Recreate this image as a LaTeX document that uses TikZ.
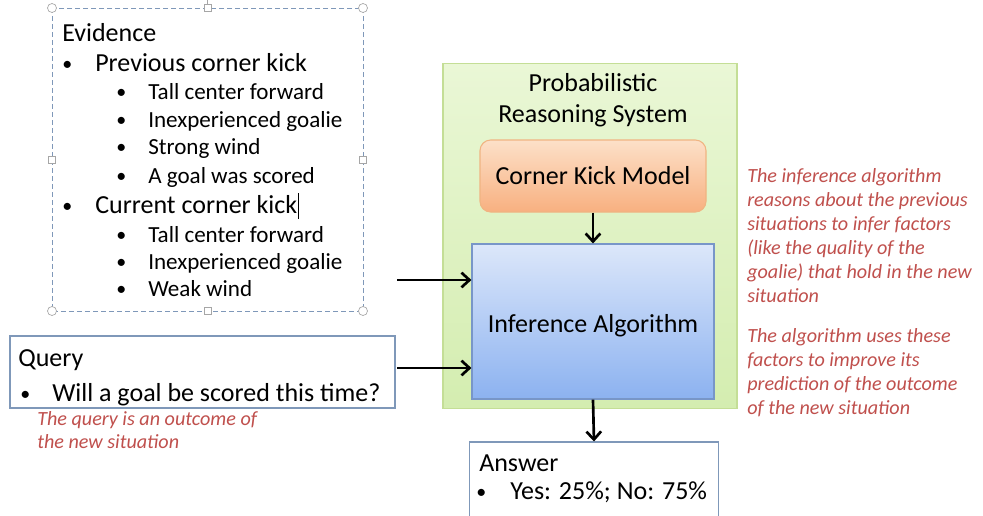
\documentclass[tikz,border=0pt]{standalone}
\usepackage{fontspec}
\setmainfont{Carlito}
\usetikzlibrary{arrows.meta,positioning}
\definecolor{notered}{RGB}{192,80,77}
\definecolor{boxline}{RGB}{127,152,185}
\definecolor{greentop}{RGB}{234,247,214}
\definecolor{greenbot}{RGB}{212,237,176}
\definecolor{greenline}{RGB}{196,222,150}
\definecolor{orangetop}{RGB}{252,224,200}
\definecolor{orangebot}{RGB}{248,176,128}
\definecolor{orangeline}{RGB}{240,180,130}
\definecolor{bluetop}{RGB}{220,231,250}
\definecolor{bluebot}{RGB}{140,178,240}
\definecolor{blueline}{RGB}{120,150,200}
\tikzset{
  frame/.style={draw=boxline,line width=0.8pt,fill=white},
  txt/.style={anchor=base west,inner sep=0pt,font=\fontsize{19.5}{22}\selectfont},
  subtxt/.style={anchor=base west,inner sep=0pt,font=\fontsize{17.3}{20}\selectfont},
  ctxt/.style={anchor=base,inner sep=0pt,font=\fontsize{19.5}{22}\selectfont},
  bul/.style={anchor=base west,inner sep=0pt,font=\fontsize{15}{18}\selectfont},
  note/.style={anchor=base west,inner sep=0pt,text=notered,font=\fontsize{15.1}{18}\selectfont\itshape},
  arr/.style={-{Straight Barb[length=6pt,width=11pt]},line width=2pt},
  handle/.style={draw=gray!70,fill=white,line width=0.5pt}
}
\begin{document}
\begin{tikzpicture}[x=0.75pt,y=-0.75pt]
\useasboundingbox[fill=white] (0,0) rectangle (983,515);
% system box
\node[draw=greenline,line width=0.8pt,top color=greentop,bottom color=greenbot,
  minimum width=220.5pt,minimum height=258.75pt,inner sep=0pt] (prs) at (590,236) {};
\node[ctxt] (prs1) at (593,91) {Probabilistic};
\node[ctxt] (prs2) at (593,122) {Reasoning System};
\node[draw=orangeline,line width=0.8pt,rounded corners=8pt,top color=orangetop,bottom color=orangebot,
  minimum width=169.5pt,minimum height=54pt,inner sep=0pt] (ckm) at (593,176) {};
\node[ctxt] (ckmt) at (593,184) {Corner Kick Model};
\node[draw=blueline,line width=0.8pt,top color=bluetop,bottom color=bluebot,
  minimum width=181.5pt,minimum height=116.25pt,inner sep=0pt] (infer) at (593,321.5) {};
\node[ctxt] (infert) at (593,332) {Inference Algorithm};
% evidence box
\draw[boxline,dash pattern=on 4pt off 2pt,line width=0.7pt] (52,8) rectangle (363,311);
\draw[gray!70] (207.5,0) -- (207.5,5);
\foreach \hx/\hy in {52/8,363/8,52/311,363/311}
  \draw[handle] (\hx,\hy) circle (4.5);
\foreach \hx/\hy in {207.5/8,207.5/311,52/160,363/160}
  \draw[handle] (\hx-3.5,\hy-3.5) rectangle (\hx+3.5,\hy+3.5);
\node[txt] (evh) at (62,41) {Evidence};
\foreach \y/\t in {71/Previous corner kick,213/Current corner kick}{
  \node[bul] (evb\y) at (62,\y-1) {•};
  \node[txt] (ev\y) at (95,\y) {\t};}
\foreach \y/\t in {99/Tall center forward,127/Inexperienced goalie,154/Strong wind,183/A goal was scored,
  242/Tall center forward,269/Inexperienced goalie,296/Weak wind}{
  \node[bul] (evb\y) at (116,\y-1) {•};
  \node[subtxt] (ev\y) at (148,\y) {\t};}
\draw[line width=0.6pt] (298,193) -- (298,219);
% query
\node[frame,minimum width=288.75pt,minimum height=54pt,inner sep=0pt] (query) at (202.5,372) {};
\node[txt] (qh) at (18,366) {Query};
\node[bul] (qb) at (20,400) {•};
\node[txt] (qt) at (52,401) {Will a goal be scored this time?};
\node[note] (qn1) at (37,425) {The query is an outcome of};
\node[note] (qn2) at (37,448) {the new situation};
% answer
\node[frame,minimum width=186.75pt,minimum height=60pt,inner sep=0pt] (answer) at (594,482) {};
\node[txt] (ah) at (479,471) {Answer};
\node[bul] (ab) at (476,498) {•};
\node[txt] (at) at (510,499) {Yes: 25\%; No: 75\%};
% notes
\foreach \y/\t in {182/The inference algorithm,206/reasons about  the previous,230/situations to infer factors,
  254/(like the quality of the,278/goalie) that hold in the new,302/situation,
  342/The algorithm uses these,366/factors to improve its,390/prediction of the outcome,414/of the new situation}
  \node[note] (rn\y) at (747,\y) {\t};
% arrows
\coordinate (evin) at (397,280);
\coordinate (qin) at (397,368);
\draw[arr] (ckm.south) -- (infer.north);
\draw[arr] (evin) -- (evin -| infer.west);
\draw[arr] (qin) -- (qin -| infer.west);
\draw[arr] (infer.south) -- (answer.north);
\end{tikzpicture}
\end{document}
